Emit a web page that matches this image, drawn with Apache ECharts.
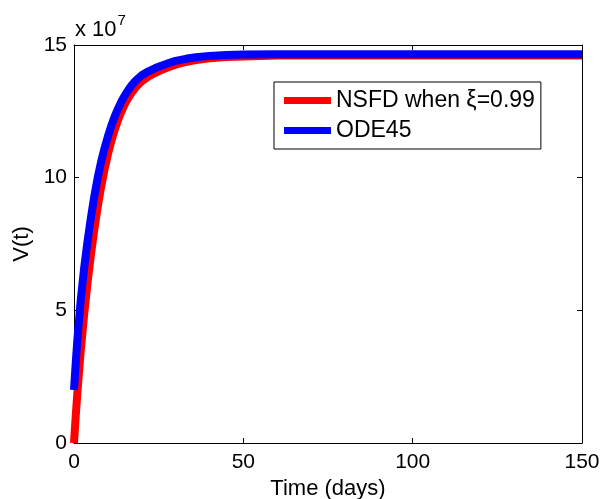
<!DOCTYPE html>
<html>
<head>
<meta charset="utf-8">
<script src="https://cdn.jsdelivr.net/npm/echarts@6/dist/echarts.min.js"></script>
<style>html,body{margin:0;padding:0;background:#fff;}#c{width:601px;height:499px;}</style>
</head>
<body>
<div id="c"></div>
<script>
// Values in units of 10^7
const nsfdT = [0, 0.5, 1, 2, 3, 4, 5, 6, 7, 8, 9, 10, 11, 12, 13, 14, 15, 16, 17, 18, 19, 20, 22, 24, 26, 28, 30, 33, 36, 40, 45, 50, 60, 80, 100, 150];
const nsfdV = [0, 1.0, 1.9, 3.5, 4.85, 6.05, 7.1, 8.05, 8.9, 9.65, 10.3, 10.87, 11.37, 11.8, 12.17, 12.49, 12.77, 13.0, 13.2, 13.37, 13.51, 13.63, 13.81, 13.95, 14.07, 14.17, 14.26, 14.36, 14.43, 14.5, 14.55, 14.57, 14.6, 14.6, 14.6, 14.6];
const odeT = [0, 0.5, 1, 2, 3, 4, 5, 6, 7, 8, 9, 10, 11, 12, 13, 14, 15, 16, 17, 18, 19, 20, 22, 24, 26, 28, 30, 33, 36, 40, 45, 50, 60, 80, 100, 150];
const odeV = [2.0, 3.0, 3.9, 5.4, 6.6, 7.6, 8.5, 9.3, 10.0, 10.6, 11.1, 11.55, 11.95, 12.3, 12.6, 12.87, 13.1, 13.3, 13.48, 13.63, 13.75, 13.86, 14.01, 14.13, 14.23, 14.32, 14.4, 14.48, 14.54, 14.59, 14.62, 14.64, 14.65, 14.65, 14.65, 14.65];
const xTicks = [0, 50, 100, 150];
const yTicks = [0, 5, 10, 15];
const seriesNames = ['NSFD when \u03BE=0.99', 'ODE45'];

const pair = (t, v) => t.map((x, i) => [x, v[i]]);
const font = 'Liberation Sans, Arial, Helvetica, sans-serif';
const chart = echarts.init(document.getElementById('c'), null, {renderer: 'canvas'});
const axisCommon = {
  axisLine: {show: true, onZero: false, lineStyle: {color: '#000', width: 1}},
  axisTick: {show: true, inside: true, length: 5, lineStyle: {color: '#000'}},
  splitLine: {show: false}
};
chart.setOption({
  animation: false,
  backgroundColor: '#fff',
  grid: {left: 74, right: 19, top: 45, bottom: 56, outerBoundsMode: 'none'},
  xAxis: [
    Object.assign({type: 'value', min: xTicks[0], max: xTicks[xTicks.length-1], interval: 50, position: 'bottom',
      name: 'Time (days)', nameLocation: 'middle', nameGap: 33,
      nameTextStyle: {fontFamily: font, fontSize: 22, color: '#000'},
      axisLabel: {fontFamily: font, fontSize: 21, color: '#000', margin: 9}}, axisCommon),
    Object.assign({type: 'value', min: 0, max: 150, interval: 50, position: 'top', axisLabel: {show: false}}, axisCommon)
  ],
  yAxis: [
    Object.assign({type: 'value', min: yTicks[0], max: yTicks[yTicks.length-1], interval: 5, position: 'left',
      name: 'V(t)', nameLocation: 'middle', nameGap: 34, nameRotate: 90,
      nameTextStyle: {fontFamily: font, fontSize: 22, color: '#000'},
      axisLabel: {fontFamily: font, fontSize: 21, color: '#000', margin: 7}}, axisCommon),
    Object.assign({type: 'value', min: 0, max: 15, interval: 5, position: 'right', axisLabel: {show: false}}, axisCommon)
  ],
  legend: {
    left: 274, top: 82, orient: 'vertical',
    backgroundColor: '#fff', borderColor: '#000', borderWidth: 1,
    padding: [7, 6, 7, 10], itemGap: 7, itemWidth: 47, itemHeight: 7,
    icon: 'rect',
    textStyle: {fontFamily: font, fontSize: 23, color: '#000'},
    data: seriesNames
  },
  graphic: [{
    type: 'text', left: 75, top: 13,
    style: {
      text: '{a|x 10}{s|7}',
      rich: {
        a: {fontFamily: font, fontSize: 22, fill: '#000', verticalAlign: 'bottom'},
        s: {fontFamily: font, fontSize: 15, fill: '#000', verticalAlign: 'top', padding: [0,0,13,1]}
      }
    }
  }],
  series: [
    {name: seriesNames[0], type: 'line', data: pair(nsfdT, nsfdV), showSymbol: false, smooth: false,
      color: '#ff0000', lineStyle: {color: '#ff0000', width: 8, join: 'round'}, z: 2},
    {name: seriesNames[1], type: 'line', data: pair(odeT, odeV), showSymbol: false, smooth: false,
      color: '#0000ff', lineStyle: {color: '#0000ff', width: 8, join: 'round'}, z: 3}
  ]
});
</script>
</body>
</html>
